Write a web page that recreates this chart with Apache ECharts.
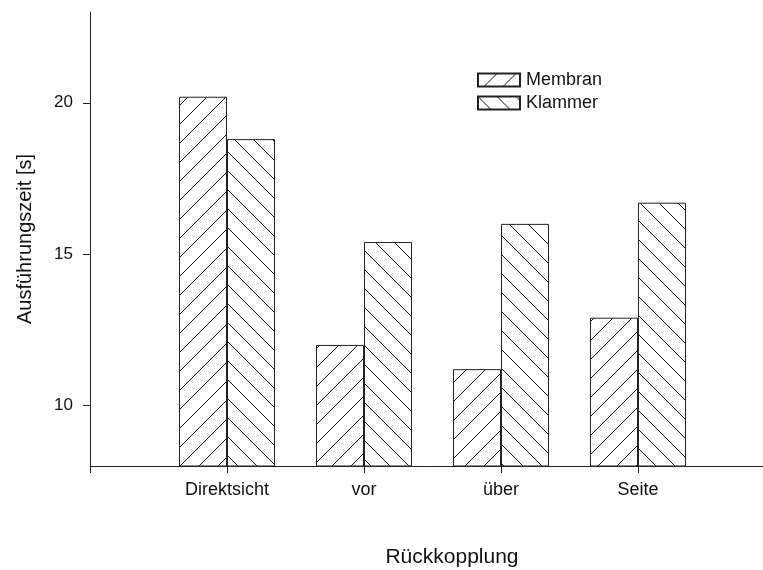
<!DOCTYPE html>
<html>
<head>
<meta charset="utf-8">
<script src="https://cdn.jsdelivr.net/npm/echarts@6/dist/echarts.min.js"></script>
<style>
  html, body { margin: 0; padding: 0; background: #fff; }
  #chart { width: 763px; height: 570px; }
</style>
</head>
<body>
<div id="chart"></div>
<script>
// Categories (blank slots pad the axis so the groups sit on the tick marks)
const categories = ['', 'Direktsicht', 'vor', 'über', 'Seite', ''];
const membran = [null, 20.2, 12.0, 11.2, 12.9, null];
const klammer = [null, 18.8, 15.4, 16.0, 16.7, null];
const yTicks = [10, 15, 20];

// Diagonal hatch tile; dir = 1 for "/" and -1 for "\"
function hatch(dir) {
  const s = 19;
  const c = document.createElement('canvas');
  c.width = s; c.height = s;
  const g = c.getContext('2d');
  g.fillStyle = '#fff';
  g.fillRect(0, 0, s, s);
  g.strokeStyle = '#111';
  g.lineWidth = 1;
  g.beginPath();
  for (const k of [-s, 0, s]) {
    if (dir > 0) { g.moveTo(k, s); g.lineTo(k + s, 0); }
    else { g.moveTo(k, 0); g.lineTo(k + s, s); }
  }
  g.stroke();
  return { image: c, repeat: 'repeat' };
}

const font = '"Liberation Sans", Arial, sans-serif';
const chart = echarts.init(document.getElementById('chart'));
chart.setOption({
  animation: false,
  backgroundColor: '#fff',
  grid: { left: 90, right: -12, top: 12, bottom: 104, containLabel: false, outerBoundsMode: 'none' },
  legend: {
    orient: 'vertical',
    left: 472, top: 66,
    icon: 'rect',
    itemWidth: 42, itemHeight: 13,
    itemGap: 5,
    textStyle: { fontFamily: font, fontSize: 18, color: '#111', padding: [0, 0, 0, 1] },
    data: ['Membran', 'Klammer']
  },
  xAxis: {
    type: 'category',
    data: categories,
    boundaryGap: false,
    name: 'Rückkopplung',
    nameLocation: 'middle',
    nameGap: 81,
    nameTextStyle: { fontFamily: font, fontSize: 21, color: '#111', padding: [0, 0, 0, 39] },
    axisLine: { lineStyle: { color: '#222', width: 1 } },
    axisTick: { show: true, interval: 0, length: 7, lineStyle: { color: '#222' } },
    axisLabel: { interval: 0, margin: 15, fontFamily: font, fontSize: 18, color: '#111' },
    splitLine: { show: false }
  },
  yAxis: {
    type: 'value',
    min: 8, max: 23,
    name: 'Ausführungszeit [s]',
    nameLocation: 'middle',
    nameGap: 55,
    nameTextStyle: { fontFamily: font, fontSize: 20, color: '#111' },
    axisLine: { show: true, lineStyle: { color: '#222', width: 1 } },
    axisTick: { show: true, length: 7, customValues: yTicks, lineStyle: { color: '#222' } },
    axisLabel: { customValues: yTicks, margin: 17, fontFamily: font, fontSize: 17, color: '#111' },
    splitLine: { show: false }
  },
  series: [
    {
      name: 'Membran',
      type: 'bar',
      data: membran,
      barWidth: 48,
      barGap: '0%',
      itemStyle: { color: hatch(1), borderColor: '#222', borderWidth: 1 }
    },
    {
      name: 'Klammer',
      type: 'bar',
      data: klammer,
      barWidth: 48,
      barGap: '0%',
      itemStyle: { color: hatch(-1), borderColor: '#222', borderWidth: 1 }
    }
  ]
});
</script>
</body>
</html>
